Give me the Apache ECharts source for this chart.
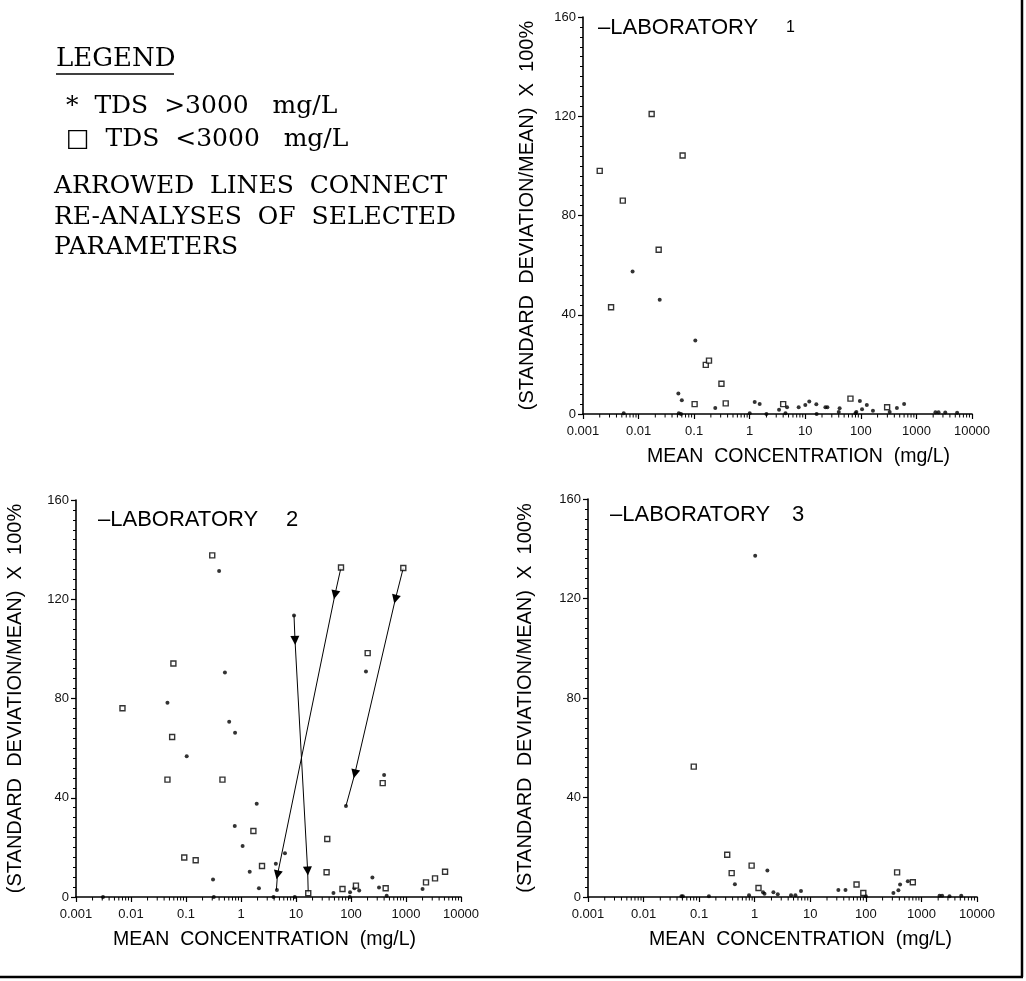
<!DOCTYPE html>
<html><head><meta charset="utf-8">
<script src="https://cdn.jsdelivr.net/npm/echarts@6/dist/echarts.min.js"></script>
<style>html,body{margin:0;padding:0;background:#fff}#c{width:1026px;height:981px}</style>
</head><body><div id="c"></div>
<script>
// ---- tick labels ----
const xTickLabels = ['0.001','0.01','0.1','1','10','100','1000','10000'];
const yTickInterval = 40;

// ---- Laboratory 1 ----
const lab1Star = [[0.0078,57.4],[0.024,46.0],[0.105,29.6],[0.052,8.3],[0.060,5.5],[0.24,2.4],[1.23,4.8],[1.51,4.0],[3.37,1.7],[4.7,2.7],[7.6,2.7],[10,3.6],[11.8,5.0],[15.8,3.9],[23,2.7],[25,2.7],[41.5,2.3],[96,5.2],[105,1.9],[128,3.6],[165,1.3],[83,0.8],[445,2.4],[600,4.0],[330,0.8],[0.0054,0.3],[0.053,0.3],[0.058,0],[1.0,0.3],[2.0,0],[4.4,0.3],[16,0],[40,0.8],[80,0.3],[2200,0.7],[2500,0.7],[3300,0.6],[5400,0.5]];
const lab1Square = [[0.0020,98.0],[0.0032,43.0],[0.0052,86.0],[0.0172,120.9],[0.023,66.2],[0.062,104.2],[0.162,19.8],[0.185,21.5],[0.31,12.2],[0.102,4.0],[0.37,4.3],[4.0,4.0],[65,6.2],[297,2.7]];

// ---- Laboratory 2 ----
const lab2Star = [[0.046,78.3],[0.103,56.7],[0.40,131.4],[0.31,7.1],[0.51,90.5],[0.61,70.6],[0.78,66.2],[0.77,28.6],[1.07,20.6],[1.44,10.2],[1.93,37.6],[2.12,3.5],[4.3,13.4],[6.3,17.6],[4.5,2.8],[9.2,113.5],[81,36.7],[48,1.6],[96,1.9],[115,3.5],[141,2.6],[187,90.9],[245,7.9],[323,3.8],[400,49.2],[445,0.5],[2000,3.2],[0.0031,0],[0.32,0],[3.9,0],[9.5,0],[95,0]];
const lab2Square = [[0.0070,76.1],[0.059,94.1],[0.056,64.5],[0.046,47.3],[0.093,15.9],[0.15,14.8],[0.30,137.7],[0.46,47.3],[1.68,26.6],[2.41,12.5],[65.8,132.8],[893,132.6],[37,23.4],[36,10.0],[70,3.2],[123,4.6],[201,98.3],[377,45.9],[427,3.5],[2310,5.9],[3370,7.5],[5130,10.2],[16.7,1.5]];
// arrowed re-analysis lines: start, first arrowhead, second arrowhead, end
const lab2ArrowA = [[65.8,132.8],[51,121.8],[4.6,8.9],[4.4,2.8]];
const lab2ArrowB = [[9.2,113.5],[9.6,103.4],[16.3,10.5],[16.7,1.5]];
const lab2ArrowC = [[893,132.6],[640,120.0],[117,49.6],[81,36.7]];

// ---- Laboratory 3 ----
const lab3Star = [[1.02,137.2],[0.44,5.1],[1.41,1.9],[1.5,1.3],[1.69,10.7],[2.17,1.9],[2.6,1.1],[4.5,0.7],[5.4,0.7],[6.8,2.4],[32,2.8],[43,2.8],[313,1.6],[413,5.0],[385,2.7],[569,6.3],[0.048,0.3],[0.051,0.3],[0.15,0.3],[0.79,0.7],[100,0.3],[2120,0.5],[2360,0.5],[3200,0.3],[5210,0.5]];
const lab3Square = [[0.080,52.4],[0.32,17.0],[0.385,9.6],[0.88,12.6],[1.17,3.6],[68,5.0],[90,1.6],[365,9.9],[700,5.9]];

const panelTitles = ['\u2013LABORATORY','\u2013LABORATORY','\u2013LABORATORY'];
const panelNumbers = ['1','2','3'];
const xName = 'MEAN  CONCENTRATION  (mg/L)';
const yName = '(STANDARD  DEVIATION/MEAN)  X  100%';
const legendLines = ['*  TDS  >3000   mg/L','\u25A1  TDS  <3000   mg/L','ARROWED  LINES  CONNECT','RE-ANALYSES  OF  SELECTED','PARAMETERS'];

// minor log tick positions (axis decoration)
const minorTicks = [];
for (let e = -3; e < 4; e++) for (let m = 2; m <= 9; m++) minorTicks.push([m * Math.pow(10, e), 0]);

const SANS = '"Liberation Sans", Arial, sans-serif';
const SERIF = '"DejaVu Serif", "Liberation Serif", serif';

const grids = [
  {left: 583, top: 17, width: 389, height: 397},
  {left: 76, top: 500, width: 385, height: 397},
  {left: 588, top: 499, width: 389, height: 398}
];
const yNameGaps = [46, 51, 53];
const xNamePad = [[0, 0, 0, 42], [0, 8, 0, 0], [0, 0, 0, 36]];

function xAxis(i) {
  return {
    type: 'log', logBase: 10, gridIndex: i, min: 0.001, max: 10000, splitNumber: 7,
    axisLine: {show: true, lineStyle: {color: '#000', width: 1.6}},
    axisTick: {show: true, inside: false, length: 5, lineStyle: {color: '#000', width: 1.2}},
    minorTick: {show: false},
    splitLine: {show: false},
    axisLabel: {
      fontSize: 13, color: '#111', fontFamily: SANS, margin: 11,
      formatter: v => xTickLabels[Math.round(Math.log10(v)) + 3] || ''
    },
    name: xName, nameLocation: 'middle', nameGap: 33,
    nameTextStyle: {fontSize: 19.5, color: '#000', fontFamily: SANS, padding: xNamePad[i]}
  };
}
function yAxis(i) {
  return {
    type: 'value', gridIndex: i, min: 0, max: 160, interval: yTickInterval,
    axisLine: {show: true, lineStyle: {color: '#000', width: 1.6}},
    axisTick: {show: true, length: 5, lineStyle: {color: '#000', width: 1.2}},
    minorTick: {show: true, splitNumber: 10, length: 3, lineStyle: {color: '#000', width: 1}},
    splitLine: {show: false},
    axisLabel: {fontSize: 13, color: '#111', fontFamily: SANS, margin: 7},
    name: yName, nameLocation: 'middle', nameGap: yNameGaps[i], nameRotate: 90,
    nameTextStyle: {fontSize: 20, color: '#000', fontFamily: SANS}
  };
}

function starSeries(i, data) {
  return {type: 'scatter', xAxisIndex: i, yAxisIndex: i, data: data, symbol: 'circle', symbolSize: 4,
    itemStyle: {color: '#000'}, clip: false, silent: true, z: 5};
}
function squareSeries(i, data) {
  return {type: 'scatter', xAxisIndex: i, yAxisIndex: i, data: data, symbol: 'rect', symbolSize: 5,
    itemStyle: {color: '#fff', borderColor: '#000', borderWidth: 1.4}, clip: false, silent: true, z: 6};
}
function minorTickSeries(i) {
  return {type: 'custom', xAxisIndex: i, yAxisIndex: i, data: minorTicks, silent: true, clip: false, z: 4,
    encode: {x: 0, y: 1},
    renderItem: (params, api) => {
      const p = api.coord([api.value(0), 0]);
      return {type: 'line', shape: {x1: p[0], y1: p[1], x2: p[0], y2: p[1] + 3.5},
        style: {stroke: '#000', lineWidth: 1}};
    }};
}

const arrowLines = [lab2ArrowA, lab2ArrowB, lab2ArrowC];
const arrowSegs = [], plainSegs = [];
arrowLines.forEach(L => {
  arrowSegs.push({coords: [L[0], L[1]]});
  arrowSegs.push({coords: [L[1], L[2]]});
  plainSegs.push({coords: [L[2], L[3]]});
});

const series = [
  minorTickSeries(0), minorTickSeries(1), minorTickSeries(2),
  starSeries(0, lab1Star), squareSeries(0, lab1Square),
  starSeries(1, lab2Star), squareSeries(1, lab2Square),
  starSeries(2, lab3Star), squareSeries(2, lab3Square),
  {type: 'lines', coordinateSystem: 'cartesian2d', xAxisIndex: 1, yAxisIndex: 1, polyline: false,
   symbol: ['none', 'triangle'], symbolSize: 9, silent: true, z: 3,
   lineStyle: {color: '#000', width: 1, opacity: 1}, itemStyle: {color: '#000'}, data: arrowSegs},
  {type: 'lines', coordinateSystem: 'cartesian2d', xAxisIndex: 1, yAxisIndex: 1, polyline: false,
   symbol: ['none', 'none'], silent: true, z: 3,
   lineStyle: {color: '#000', width: 1, opacity: 1}, data: plainSegs}
];

const titlePos = [[598, 17], [98, 509], [610, 504]];
const numPos = [[786, 20, 16], [286, 509, 22], [792, 504, 22]];
const graphics = [];
panelTitles.forEach((t, i) => {
  graphics.push({type: 'text', left: titlePos[i][0], top: titlePos[i][1],
    style: {text: t, font: '22px ' + SANS, fill: '#000'}});
  graphics.push({type: 'text', left: numPos[i][0], top: numPos[i][1],
    style: {text: panelNumbers[i], font: numPos[i][2] + 'px ' + SANS, fill: '#000'}});
});

// legend block
graphics.push({type: 'text', left: 56, top: 46, style: {text: 'LEGEND', font: '26px ' + SERIF, fill: '#000'}});
graphics.push({type: 'line', shape: {x1: 56, y1: 74, x2: 174, y2: 74}, style: {stroke: '#000', lineWidth: 1.5}});
const legendTops = [94, 127, 174, 205, 235];
legendLines.forEach((t, i) => graphics.push({type: 'text', left: i < 2 ? 66 : 54, top: legendTops[i],
  style: {text: t, font: '25px ' + SERIF, fill: '#000'}}));

// frame lines
graphics.push({type: 'line', shape: {x1: 1022, y1: 0, x2: 1022, y2: 977}, style: {stroke: '#000', lineWidth: 2.5}});
graphics.push({type: 'line', shape: {x1: 0, y1: 977, x2: 1023, y2: 977}, style: {stroke: '#000', lineWidth: 2.5}});

const chart = echarts.init(document.getElementById('c'));
chart.setOption({
  animation: false,
  backgroundColor: '#fff',
  grid: grids,
  xAxis: [xAxis(0), xAxis(1), xAxis(2)],
  yAxis: [yAxis(0), yAxis(1), yAxis(2)],
  series: series,
  graphic: graphics
});
</script></body></html>
